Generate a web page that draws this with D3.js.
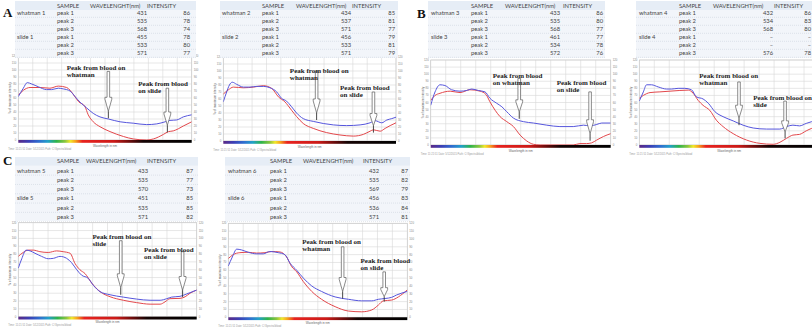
<!DOCTYPE html>
<html><head><meta charset="utf-8">
<script src="https://cdn.jsdelivr.net/npm/d3@7"></script>
<style>
html,body{margin:0;padding:0;background:#fff;}
svg{display:block;}
</style></head><body>
<svg id="fig" width="812" height="332"></svg>
<script>
// ---- data ----
const nmDomain = [380, 1000];
const pctDomain = [0, 120];
const pctTicks = d3.range(0, 121, 10);
const nmGrid = d3.range(0, 13).map(i => 380 + i * 620 / 12);

const headerLabels = ["SAMPLE", "WAVELENGHT(nm)", "INTENSITY"];
const peakLabels = ["peak 1", "peak 2", "peak 3"];
const sampleGroups = [
  ["whatman 1", "slide 1"], ["whatman 2", "slide 2"], ["whatman 3", "slide 3"],
  ["whatman 4", "slide 4"], ["whatman 5", "slide 5"], ["whatman 6", "slide 6"]
];
const peakWavelengths = [
  [431, 535, 568, 455, 533, 571],
  [434, 537, 571, 456, 533, 571],
  [433, 535, 568, 461, 534, 572],
  [432, 534, 568, "–", "–", 576],
  [433, 535, 570, 451, 535, 571],
  [432, 535, 569, 456, 536, 571]
];
const peakIntensities = [
  [86, 78, 74, 78, 80, 77],
  [85, 81, 77, 79, 81, 79],
  [86, 80, 77, 77, 78, 76],
  [86, 83, 80, "–", "–", 78],
  [87, 77, 73, 85, 85, 82],
  [87, 82, 79, 83, 84, 81]
];

// blue trace, [wavelength nm, % of maximum intensity]
const seriesBlue = [
  [[380,62],[398,74],[412,82],[428,80],[452,76],[481,72],[499,72],[523,74],[541,73],[565,70],[583,62],[601,54],[624,46],[648,38],[672,33],[702,30],[744,26],[791,24],[839,22],[875,23],[905,26],[922,28],[946,28.6],[970,33],[1000,36]],
  [[380,56],[392,70],[402,80],[412,84],[428,81],[452,77],[476,77],[500,78],[524,78],[548,76],[572,70],[589,61],[607,57],[625,49],[643,40],[667,32],[703,28],[739,25],[775,23],[823,22],[871,23],[907,26],[925,29],[949,26],[967,30],[985,32],[1000,34]],
  [[380,56],[395,75],[412,85],[429,84],[452,78],[481,76],[504,77],[521,79],[544,77],[567,75],[584,66],[607,59],[625,54],[642,47],[665,38],[699,33],[734,31],[780,28],[825,26],[871,26],[906,28],[929,27],[952,29],[969,31],[1000,31]],
  [[380,62],[394,75],[405,85],[422,85],[445,82],[474,79],[491,79],[514,80],[537,80],[560,78],[577,68],[600,65],[618,59],[641,47],[669,40],[704,34],[738,28],[773,24],[819,22.5],[865,22.5],[888,26],[910,28],[933,27],[956,30.5],[975,33],[1000,35]],
  [[380,62],[392,74],[407,85],[421,84],[438,81],[461,77],[484,74],[502,74.5],[525,77],[548,74.5],[565,69],[583,60],[600,53],[623,49],[641,40],[664,32],[699,28],[745,25],[791,22.5],[838,21],[873,21],[896,23],[913,25],[942,26],[965,29],[1000,34]],
  [[380,65.5],[394,77],[409,87],[426,86],[449,83],[478,81],[501,81],[524,84],[553,82.5],[576,80],[594,69],[617,60],[640,50],[669,40],[703,33],[750,26],[796,23],[842,21],[877,21],[900,23],[923,24],[946,25.5],[963,28.5],[1000,33]]
];
// red trace
const seriesRed = [
  [[380,64],[398,71],[422,75],[458,75],[493,74],[523,77],[553,75],[577,65],[595,55],[618,48],[630,36],[648,26],[672,19],[708,12],[756,5],[791,1.5],[839,0],[863,1.5],[899,8],[917,12],[934,13],[952,16],[970,20],[1000,26]],
  [[380,67],[398,73],[416,77],[452,76],[488,77],[524,79],[554,75],[578,63],[601,56],[625,44],[643,35],[667,25],[703,18],[751,12],[799,8.6],[847,7],[883,9.5],[907,14],[919,16],[943,14],[961,18],[979,22],[1000,26]],
  [[380,63],[395,70],[412,73],[447,76],[481,74],[515,78],[550,76],[571,71],[584,61],[602,49],[619,40],[642,33],[665,26],[688,14],[711,5.6],[734,1],[757,0],[871,0],[894,2],[917,2],[934,3],[952,7],[975,12],[1000,16]],
  [[380,66],[394,70],[417,74],[451,75],[486,76],[520,77],[549,77.5],[566,73],[583,63],[600,56],[623,49],[646,35],[669,26],[704,16],[750,7],[796,2.3],[842,1],[865,3.8],[888,9.4],[910,14],[933,15],[956,20],[975,23.5],[1000,26]],
  [[380,77],[397,82],[415,85],[432,85],[455,83],[484,82],[513,84],[536,83],[560,81],[577,68],[594,60],[612,55],[635,43],[664,32],[699,25.5],[745,21],[791,18],[838,16],[873,16],[890,19],[907,23],[942,23.4],[960,25.5],[977,30],[1000,34]],
  [[380,75],[397,80],[420,82.5],[449,83],[478,82],[507,82.5],[530,84],[559,83.4],[582,77],[599,65],[617,58],[640,45.5],[669,33],[703,23],[750,13.6],[796,8],[842,7],[877,9.4],[900,15.7],[917,21],[946,22],[969,26],[1000,35]]
];

// arrow annotations: wavelength, top and tip in % units
const arrowNm  = [[702, 913], [715, 919], [685, 929], [724, 883], [736, 951], [776, 920]];
const arrowTop = [[98, 74], [99, 70], [94, 75], [89, 62], [97, 83], [90, 58]];
const arrowTip = [[31, 11], [30, 12], [37, 6], [28, 9.4], [28, 25], [24, 20]];
const noteLines = [
  [["Peak from blood on", "whatman"], ["Peak from blood", "on slide"]],
  [["Peak from blood on", "whatman"], ["Peak from blood", "on slide"]],
  [["Peak from blood", "on whatman"], ["Peak from blood", "on slide"]],
  [["Peak from blood on", "whatman"], ["Peak from blood on", "slide"]],
  [["Peak from blood on", "slide"], ["Peak from blood", "on slide"]],
  [["Peak from blood on", "whatman"], ["Peak from blood", "on slide"]]
];
const noteAnchor = [
  [[553, 103], [809, 80]], [[619, 100], [799, 76]], [[594, 97], [814, 88]],
  [[587, 98], [773, 66]], [[638, 102], [817, 86]], [[636, 96], [838, 72]]
];
const panelLetters = ["A", "B", "C"];

// ---- layout ----
const pageW = 812;
const layout = [
  {x0: 18.3, x1: 191.7, y0: 56, y1: 140, tb: {l: 15, r: 196, t: 1, b: 58, hy: 6, ry: 13.3, rh: 8, c: [17, 57, 90, 147, 147, 190]}},
  {x0: 223.3, x1: 396, y0: 57, y1: 141, tb: {l: 220, r: 398, t: 1, b: 58, hy: 6, ry: 13.3, rh: 8, c: [222, 262, 296, 351, 352, 395]}},
  {x0: 430.7, x1: 610.7, y0: 60, y1: 145, tb: {l: 428, r: 605, t: 1, b: 58, hy: 6, ry: 13.3, rh: 8, c: [431, 471, 505, 560, 563, 603]}},
  {x0: 639.3, x1: 819, y0: 60, y1: 145, tb: {l: 636, r: 830, t: 1, b: 58, hy: 6, ry: 13.3, rh: 8, c: [639, 679, 713, 773, 774, 811]}},
  {x0: 18.3, x1: 196.7, y0: 222.7, y1: 316.7, tb: {l: 15, r: 198, t: 157, b: 221, hy: 161, ry: 170.5, rh: 9.3, c: [17, 57, 86, 148, 147, 193]}},
  {x0: 228.3, x1: 407.3, y0: 223.3, y1: 317.3, tb: {l: 225, r: 410, t: 157, b: 221, hy: 161, ry: 170.5, rh: 9.3, c: [228, 270, 303, 379, 363, 408]}}
];
const letterPos = [[3, 17], [417, 18], [3, 165]];

const svg = d3.select("#fig");

const spectrumStops = [
  [0, "#5b2a86"], [0.06, "#3b3fb5"], [0.12, "#2f6fd0"], [0.17, "#22a0c8"],
  [0.22, "#2db34a"], [0.27, "#8cc63e"], [0.30, "#f2e82a"], [0.33, "#f7a21b"],
  [0.37, "#e8231f"], [0.55, "#cc1a18"], [0.64, "#6e0c0c"], [0.72, "#150404"], [1, "#000"]
];
const defs = svg.append("defs");
const grad = defs.append("linearGradient").attr("id", "spec").attr("x1", "0").attr("x2", "1").attr("y1", "0").attr("y2", "0");
spectrumStops.forEach(s => grad.append("stop").attr("offset", s[0]).attr("stop-color", s[1]));

function drawChart(i) {
  const L = layout[i];
  const x = d3.scaleLinear().domain(nmDomain).range([L.x0, L.x1]);
  const y = d3.scaleLinear().domain(pctDomain).range([L.y1, L.y0]);
  const g = svg.append("g");

  defs.append("clipPath").attr("id", "clip" + i).append("rect")
    .attr("x", L.x0).attr("y", L.y0 - 1).attr("width", L.x1 - L.x0).attr("height", L.y1 - L.y0 + 1);

  // grid
  g.selectAll(".h").data(pctTicks).join("line")
    .attr("x1", L.x0).attr("x2", L.x1).attr("y1", d => y(d)).attr("y2", d => y(d))
    .attr("stroke", "#d6d6d6").attr("stroke-width", 0.6);
  g.selectAll(".v").data(nmGrid).join("line")
    .attr("x1", d => x(d)).attr("x2", d => x(d)).attr("y1", L.y0).attr("y2", L.y1)
    .attr("stroke", "#d6d6d6").attr("stroke-width", 0.6);
  g.append("rect").attr("x", L.x0).attr("y", L.y0).attr("width", L.x1 - L.x0).attr("height", L.y1 - L.y0)
    .attr("fill", "none").attr("stroke", "#c8c8c8").attr("stroke-width", 0.6);

  // tiny tick labels on both sides (right side only when it fits on the page)
  const tl = g.append("g").attr("font-family", "Liberation Sans, sans-serif").attr("font-size", 2.8).attr("fill", "#888");
  tl.selectAll(".l").data(pctTicks).join("text")
    .attr("x", L.x0 - 2).attr("y", d => y(d) + 1).attr("text-anchor", "end").text(d => d);
  if (L.x1 + 8 < pageW) {
    tl.selectAll(".r").data(pctTicks).join("text")
      .attr("x", L.x1 + 2).attr("y", d => y(d) + 1).attr("text-anchor", "start").text(d => d);
  }
  g.append("text").attr("transform", `translate(${L.x0 - 7},${(L.y0 + L.y1) / 2}) rotate(-90)`)
    .attr("text-anchor", "middle").attr("font-family", "Liberation Sans, sans-serif").attr("font-size", 3).attr("fill", "#666")
    .text("% of maximum intensity");

  // spectrum bar
  g.append("rect").attr("x", L.x0).attr("y", L.y1).attr("width", L.x1 - L.x0).attr("height", 2.8)
    .attr("fill", "url(#spec)");
  g.append("text").attr("x", (L.x0 + L.x1) / 2).attr("y", L.y1 + 6.5).attr("text-anchor", "middle")
    .attr("font-family", "Liberation Sans, sans-serif").attr("font-size", 3).attr("fill", "#666").text("Wavelength in nm");
  g.append("text").attr("x", L.x0 - 10).attr("y", L.y1 + 9.5)
    .attr("font-family", "Liberation Sans, sans-serif").attr("font-size", 2.6).attr("fill", "#999")
    .text("Time: 11:21:51    Date: 5/12/2015       Path: C:\\Spectra\\blood");

  // traces
  const line = d3.line().x(d => x(d[0])).y(d => y(d[1])).curve(d3.curveMonotoneX);
  const lines = g.append("g").attr("clip-path", `url(#clip${i})`);
  lines.append("path").attr("d", line(seriesRed[i])).attr("fill", "none").attr("stroke", "#e2474b").attr("stroke-width", 1);
  lines.append("path").attr("d", line(seriesBlue[i])).attr("fill", "none").attr("stroke", "#5656dc").attr("stroke-width", 1);

  // arrows
  arrowNm[i].forEach((nm, k) => {
    const ax = x(nm), yt = y(arrowTop[i][k]), yp = y(arrowTip[i][k]);
    const len = yp - yt;
    const lineLen = Math.min(7, len * 0.17), headLen = Math.min(14, len * 0.3);
    const hs = yp - lineLen - headLen, he = yp - lineLen;
    const sw = 1.3, hw = 3.4;
    g.append("path")
      .attr("d", `M${ax - sw},${yt}L${ax + sw},${yt}L${ax + sw},${hs}L${ax + hw},${hs}L${ax + hw},${hs + 2}L${ax},${he}L${ax - hw},${hs + 2}L${ax - hw},${hs}L${ax - sw},${hs}Z`)
      .attr("fill", "#fff").attr("stroke", "#5a5a5a").attr("stroke-width", 0.7);
    g.append("line").attr("x1", ax).attr("x2", ax).attr("y1", he).attr("y2", yp)
      .attr("stroke", "#333").attr("stroke-width", 0.9);
  });

  // notes
  noteAnchor[i].forEach((a, k) => {
    const t = g.append("text").attr("font-family", "Liberation Serif, serif").attr("font-weight", "bold")
      .attr("font-size", 7).attr("fill", "#222");
    noteLines[i][k].forEach((s, j) => {
      t.append("tspan").attr("x", x(a[0])).attr("y", y(a[1]) + 2.2 + j * 7).text(s);
    });
  });
}

function drawTable(i) {
  const T = layout[i].tb;
  const g = svg.append("g").attr("font-family", "Lato, sans-serif").attr("font-size", 5.8).attr("fill", "#444");
  g.append("rect").attr("x", T.l).attr("y", T.t).attr("width", T.r - T.l).attr("height", T.b - T.t).attr("fill", "#f2f5fa");
  g.append("rect").attr("x", T.l).attr("y", T.t).attr("width", T.r - T.l).attr("height", T.hy - T.t + T.rh / 2).attr("fill", "#e6edf6");
  const rows = d3.range(6);
  g.selectAll(".sep").data(rows).join("line")
    .attr("x1", T.l).attr("x2", T.r)
    .attr("y1", d => T.ry + d * T.rh + T.rh / 2).attr("y2", d => T.ry + d * T.rh + T.rh / 2)
    .attr("stroke", "#c4ccd8").attr("stroke-width", 0.5).attr("stroke-dasharray", "1,1");
  const c = T.c;
  g.append("text").attr("x", c[1]).attr("y", T.hy + 2).text(headerLabels[0]);
  g.append("text").attr("x", c[2]).attr("y", T.hy + 2).text(headerLabels[1]);
  g.append("text").attr("x", c[4]).attr("y", T.hy + 2).text(headerLabels[2]);
  rows.forEach(r => {
    const yy = T.ry + r * T.rh + 2;
    if (r % 3 === 0) g.append("text").attr("x", c[0]).attr("y", yy).text(sampleGroups[i][r / 3]);
    g.append("text").attr("x", c[1]).attr("y", yy).text(peakLabels[r % 3]);
    g.append("text").attr("x", c[3]).attr("y", yy).attr("text-anchor", "end").text(peakWavelengths[i][r]);
    g.append("text").attr("x", c[5]).attr("y", yy).attr("text-anchor", "end").text(peakIntensities[i][r]);
  });
}

d3.range(6).forEach(drawChart);
d3.range(6).forEach(drawTable);

panelLetters.forEach((s, k) => {
  svg.append("text").attr("x", letterPos[k][0]).attr("y", letterPos[k][1])
    .attr("font-family", "Liberation Serif, serif").attr("font-weight", "bold").attr("font-size", 13)
    .attr("fill", "#111").text(s);
});
</script></body></html>
